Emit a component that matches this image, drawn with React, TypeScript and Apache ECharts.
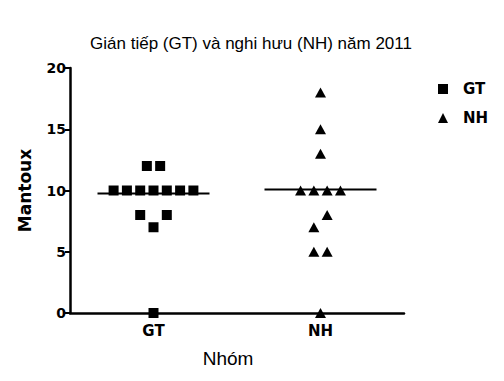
import React, { useEffect, useRef } from "react";
import * as echarts from "echarts";

const categories = ["GT", "NH"];
const gtValues = [12, 12, 10, 10, 10, 10, 10, 10, 10, 8, 8, 7, 0];
const nhValues = [18, 15, 13, 10, 10, 10, 10, 8, 7, 5, 5, 0];
const meanValues = [9.75, 10.09];
const titleText = "Gián tiếp (GT) và nghi hưu (NH) năm 2011";
const xAxisName = "Nhóm";
const yAxisName = "Mantoux";

// horizontal spread of points within a column (layout, in symbol-spacing units)
const gtSpread = [-0.5, 0.5, -3, -2, -1, 0, 1, 2, 3, -1, 1, 0, 0];
const nhSpread = [0, 0, 0, -1.5, -0.5, 0.5, 1.5, 0.5, -0.5, -0.5, 0.5, 0];
const SPACING = 13.3;
const MEAN_HALF = 56;

const boldFont = "'DejaVu Sans', sans-serif";
const narrowFont = "'Liberation Sans Narrow', 'Liberation Sans', Arial, sans-serif";

export default function App() {
  const ref = useRef<HTMLDivElement>(null);
  useEffect(() => {
    if (!ref.current) return;
    const chart = echarts.init(ref.current, null, { renderer: "svg" });
    const mk = (vals: number[], spread: number[], idx: number) =>
      vals.map((v, i) => ({ value: [idx, v], symbolOffset: [spread[i] * SPACING, 0] }));
    chart.setOption({
      animation: false,
      backgroundColor: "#fff",
      title: {
        text: titleText,
        left: 246,
        textAlign: "center",
        top: 30,
        textStyle: { fontFamily: narrowFont, fontSize: 17, fontWeight: "normal", color: "#000" },
      },
      legend: {
        orient: "vertical",
        left: 433,
        top: 76,
        itemWidth: 10,
        itemHeight: 10,
        itemGap: 13,
        textStyle: {
          fontFamily: boldFont,
          fontWeight: "bold",
          fontSize: 15,
          color: "#000",
          lineHeight: 16,
          padding: [0, 0, 0, 10],
        },
        data: [
          { name: "GT", icon: "rect", itemStyle: { color: "#000", opacity: 1 } },
          { name: "NH", icon: "triangle", itemStyle: { color: "#000", opacity: 1 } },
        ],
      },
      grid: { left: 70, right: 100, top: 68, bottom: 68, containLabel: false },
      xAxis: {
        type: "category",
        data: categories,
        boundaryGap: true,
        name: xAxisName,
        nameLocation: "middle",
        nameGap: 36,
        nameTextStyle: {
          fontFamily: narrowFont,
          fontSize: 19,
          color: "#000",
          padding: [0, 18, 0, 0],
        },
        axisLine: { lineStyle: { color: "#000", width: 2.5 } },
        axisTick: { alignWithLabel: true, length: 5, lineStyle: { color: "#000", width: 2 } },
        axisLabel: { fontFamily: boldFont, fontWeight: "bold", fontSize: 15, color: "#000", margin: 10 },
        splitLine: { show: false },
      },
      yAxis: {
        type: "value",
        min: 0,
        max: 20,
        interval: 5,
        name: yAxisName,
        nameLocation: "middle",
        nameRotate: 90,
        nameGap: 37,
        nameTextStyle: { fontFamily: boldFont, fontWeight: "bold", fontSize: 17, color: "#000" },
        axisLine: { show: true, lineStyle: { color: "#000", width: 2.5 } },
        axisTick: { show: true, length: 5, lineStyle: { color: "#000", width: 2 } },
        axisLabel: { fontFamily: boldFont, fontWeight: "bold", fontSize: 14, color: "#000", margin: 4 },
        splitLine: { show: false },
      },
      series: [
        {
          type: "custom",
          name: "mean",
          z: 1,
          data: meanValues.map((m, i) => [i, m]),
          renderItem: (params: any, api: any) => {
            const p = api.coord([api.value(0), api.value(1)]);
            return {
              type: "line",
              shape: { x1: p[0] - MEAN_HALF, y1: p[1], x2: p[0] + MEAN_HALF, y2: p[1] },
              style: { stroke: "#000", lineWidth: 2 },
            };
          },
        },
        {
          type: "scatter",
          name: "GT",
          z: 3,
          symbol: "rect",
          symbolSize: 10,
          clip: false,
          itemStyle: { color: "#000", opacity: 1 },
          data: mk(gtValues, gtSpread, 0),
        },
        {
          type: "scatter",
          name: "NH",
          z: 3,
          symbol: "triangle",
          symbolSize: [11, 10],
          clip: false,
          itemStyle: { color: "#000", opacity: 1 },
          data: mk(nhValues, nhSpread, 1),
        },
      ],
    });
    return () => chart.dispose();
  }, []);
  return (
    <div
      ref={ref}
      style={{ position: "absolute", left: 0, top: 0, width: 504, height: 381, background: "#fff" }}
    />
  );
}
